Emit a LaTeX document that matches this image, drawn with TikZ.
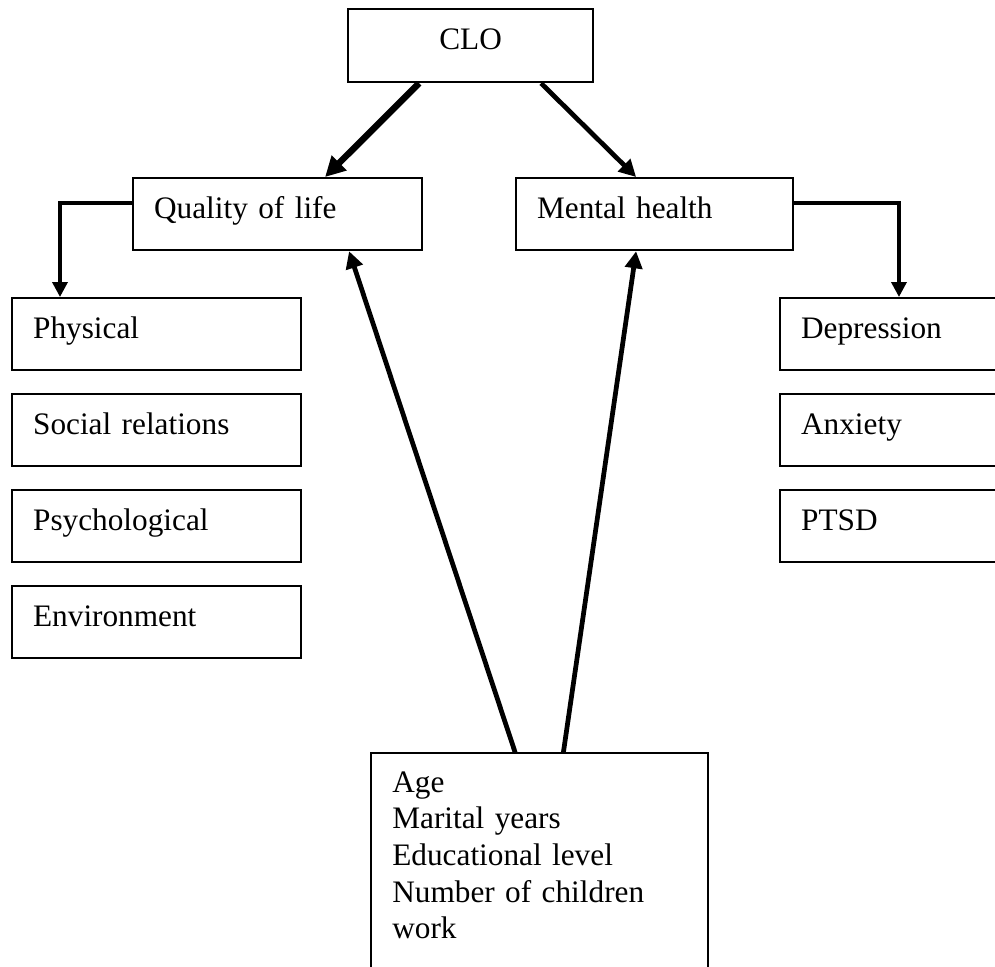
\documentclass[tikz,border=0pt]{standalone}
\usepackage{fontspec}
\setmainfont{Liberation Serif}
\usetikzlibrary{arrows.meta, positioning}

\begin{document}
\begin{tikzpicture}[
    x=0.02cm, y=-0.02cm,
    txt/.style={font=\fontsize{17.8pt}{20.9pt}\selectfont},
    topbox/.style={txt, rectangle, draw, line width=0.045cm, anchor=north west,
        minimum width=4.9cm, minimum height=1.46cm, text height=0.44cm, text depth=0.28cm},
    lbox/.style={txt, rectangle, draw, line width=0.045cm, anchor=north west, align=left,
        inner xsep=0.42cm, minimum height=1.44cm, text height=0.44cm, text depth=0.28cm},
    link/.style={line width=0.07cm, -{Triangle[length=0.3cm, width=0.3cm]}},
    arrmid/.style={line width=0.095cm, -{Triangle[length=0.34cm, width=0.34cm]}},
    arrbig/.style={line width=0.13cm, -{Triangle[length=0.4cm, width=0.4cm]}}
]
\useasboundingbox (0,0) rectangle (995,967);
\clip (0,0) rectangle (995,967);

% Top node
\node[topbox] (clo) at (347,8) {CLO};

% Second row
\node[lbox, text width=4.94cm] (qol) at (132,177) {Quality of life};
\node[lbox, text width=4.70cm] (mh) at (515,177) {Mental health};

% Quality of life domains (left column)
\node[lbox, text width=4.94cm] (phys) at (11,297) {Physical};
\node[lbox, text width=4.94cm] (soc) at (11,393) {Social relations};
\node[lbox, text width=4.94cm] (psy) at (11,489) {Psychological};
\node[lbox, text width=4.94cm] (env) at (11,585) {Environment};

% Mental health outcomes (right column, cut at page edge)
\node[lbox, text width=4.94cm] (dep) at (779,297) {Depression};
\node[lbox, text width=4.94cm] (anx) at (779,393) {Anxiety};
\node[lbox, text width=4.94cm] (ptsd) at (779,489) {PTSD};

% Background variables (bottom, cut at page edge)
\node[txt, anchor=north west, align=left, text width=5.88cm, inner xsep=0.42cm, inner ysep=0.36cm]
    (age) at (371,753) {Age\\Marital years\\Educational level\\Number of children\\work};
\draw[line width=0.045cm] (age.north west) rectangle ([yshift=-1cm]age.south east);

% CLO to outcomes
\draw[arrbig] ([xshift=-1.03cm]clo.south) -- ([xshift=0.95cm]qol.north);
\draw[arrmid] ([xshift=1.41cm]clo.south) -- ([xshift=-0.37cm]mh.north);

% Background variables to outcomes
\draw[arrmid] ([xshift=-0.48cm]age.north) -- ([xshift=1.43cm]qol.south);
\draw[arrmid] ([xshift=0.48cm]age.north) -- ([xshift=-0.37cm]mh.south);

% Elbow connectors to the columns
\draw[link] ([yshift=0.22cm]qol.west) -| ([xshift=0.98cm]phys.north west);
\draw[link] ([yshift=0.22cm]mh.east) -| ([xshift=2.4cm]dep.north west);

\end{tikzpicture}
\end{document}
